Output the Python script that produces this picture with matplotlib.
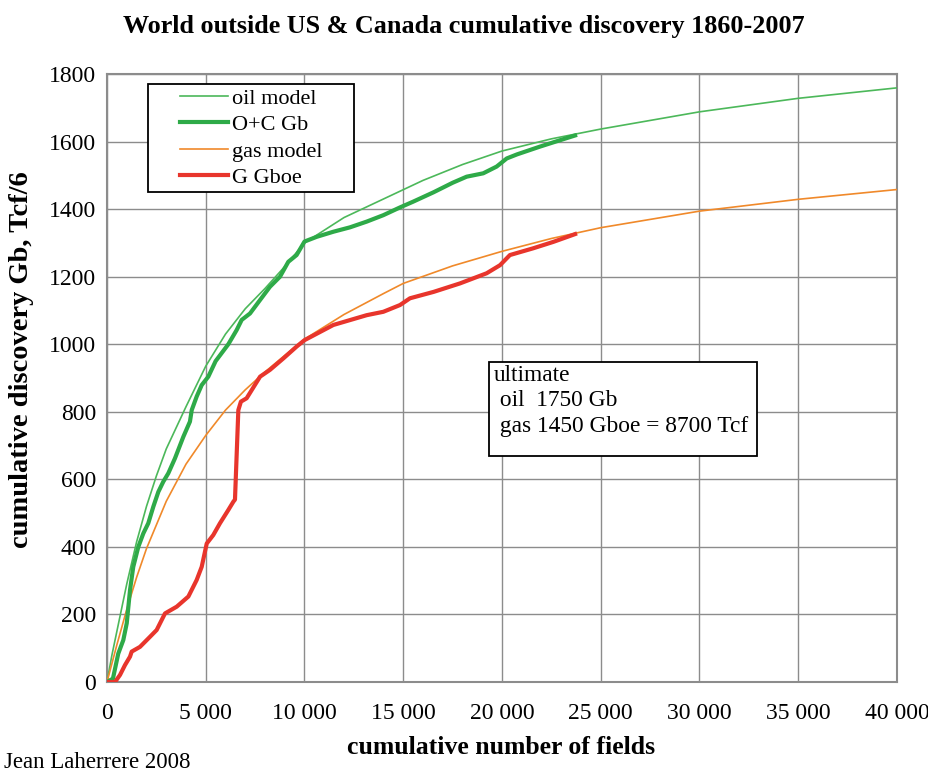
import matplotlib
matplotlib.use("Agg")
import matplotlib.pyplot as plt
from matplotlib.ticker import FixedLocator
from matplotlib.patches import Rectangle

# ---------------- data ----------------
oil_model_x = [0, 250, 500, 1000, 1500, 2000, 2500, 3000, 4000, 5000, 6000, 7000, 8000,
               9000, 10000, 12000, 14000, 16000, 18000, 20000, 22500, 25000, 30000,
               35000, 40000]
oil_model_y = [0, 80, 150, 290, 415, 520, 610, 690, 815, 935, 1030, 1105, 1165,
               1230, 1300, 1375, 1430, 1485, 1532, 1572, 1608, 1637, 1688,
               1728, 1759]

oc_x = [0, 300, 570, 825, 1000, 1165, 1330, 1585, 1840, 2090, 2345, 2600, 2850, 3105,
        3440, 3865, 4200, 4290, 4540, 4795, 5130, 5500, 6143, 6565, 6820, 7240,
        7750, 8250, 8760, 9180, 9600, 10000, 10620, 11460, 12300, 13150, 13990,
        14835, 15500, 16540, 17500, 18210, 19050, 19730, 20240, 20760, 21920,
        22940, 23700]
oc_y = [0, 10, 84, 124, 174, 272, 341, 400, 440, 470, 519, 563, 593, 618,
        662, 726, 771, 805, 845, 879, 904, 950, 1000, 1042, 1072, 1091,
        1131, 1170, 1200, 1244, 1264, 1304, 1318, 1333, 1346, 1363, 1382,
        1405, 1422, 1450, 1478, 1496, 1506, 1526, 1550, 1562, 1585,
        1604, 1618]

gas_model_x = [0, 500, 1000, 1500, 2000, 3000, 4000, 5000, 6000, 7000, 8000, 9000,
               10000, 12000, 14000, 15000, 17500, 20000, 22500, 25000, 30000,
               35000, 40000]
gas_model_y = [0, 110, 215, 310, 395, 535, 645, 730, 805, 865, 918, 967,
               1015, 1088, 1150, 1180, 1232, 1275, 1313, 1345, 1394,
               1429, 1458]

g_x = [0, 405, 660, 910, 1165, 1250, 1670, 2180, 2515, 2937, 3530, 4120, 4540,
       4795, 5050, 5380, 5720, 6140, 6400, 6480, 6650, 6780, 7070, 7750, 8250,
       8930, 9600, 10000, 11460, 13150, 13990, 14835, 15340, 16540, 17870,
       19220, 19900, 20400, 21580, 22600, 23700]
g_y = [0, 0, 21, 50, 75, 90, 104, 134, 154, 203, 223, 253, 302,
       341, 410, 435, 470, 509, 534, 540, 805, 830, 840, 904, 924,
       958, 993, 1012, 1057, 1086, 1096, 1116, 1136, 1155, 1180,
       1210, 1234, 1264, 1284, 1303, 1326]

series_labels = ["oil model", "O+C Gb", "gas model", "G Gboe"]
xtick_values = [0, 5000, 10000, 15000, 20000, 25000, 30000, 35000, 40000]
xtick_labels = ["0", "5 000", "10 000", "15 000", "20 000", "25 000", "30 000",
                "35 000", "40 000"]
ytick_values = [0, 200, 400, 600, 800, 1000, 1200, 1400, 1600, 1800]
ytick_labels = ["0", "200", "400", "600", "800", "1000", "1200", "1400", "1600", "1800"]

title = "World outside US & Canada cumulative discovery 1860-2007"
xlabel = "cumulative number of fields"
ylabel = "cumulative discovery Gb, Tcf/6"
note = "ultimate\n oil  1750 Gb\n gas 1450 Gboe = 8700 Tcf"
credit = "Jean Laherrere 2008"

# ---------------- drawing ----------------
plt.rcParams['font.family'] = ['Liberation Serif', 'DejaVu Serif']

W, H = 929, 773
fig = plt.figure(figsize=(W/100, H/100), dpi=100)
ax = fig.add_axes([107/W, 1-682/H, 790/W, 608/H])

c_oil_model = "#4cb85a"
c_oc = "#2eaa48"
c_gas_model = "#f0892a"
c_g = "#e8352c"

ax.plot(oil_model_x, oil_model_y, color=c_oil_model, lw=1.2, label=series_labels[0], zorder=3)
ax.plot(oc_x, oc_y, color=c_oc, lw=3.0, label=series_labels[1], zorder=4)
ax.plot(gas_model_x, gas_model_y, color=c_gas_model, lw=1.2, label=series_labels[2], zorder=3)
ax.plot(g_x, g_y, color=c_g, lw=3.0, label=series_labels[3], zorder=4)

ax.set_xlim(0, 40000)
ax.set_ylim(0, 1800)
ax.xaxis.set_major_locator(FixedLocator(xtick_values))
ax.yaxis.set_major_locator(FixedLocator(ytick_values))
ax.set_xticklabels(xtick_labels)
ax.set_yticklabels(ytick_labels)
ax.tick_params(axis='both', labelsize=17, length=0)
ax.tick_params(axis='x', pad=15)
ax.tick_params(axis='y', pad=8)
ax.grid(True, color="#8c8c8c", lw=1.0)
ax.set_axisbelow(True)
for s in ax.spines.values():
    s.set_color("#8c8c8c")
    s.set_linewidth(1.5)

fig.text(464/W, 1-27/H, title, ha='center', va='center', fontsize=18.8, fontweight='bold')
fig.text(501/W, 1-748/H, xlabel, ha='center', va='center', fontsize=18.5, fontweight='bold')
fig.text(22/W, 1-360/H, ylabel, ha='center', va='center', fontsize=20.5,
         fontweight='bold', rotation=90)
fig.text(4/W, 1-763/H, credit, ha='left', va='center', fontsize=16.5)

# legend: frame drawn separately so that padding matches
ax.add_patch(Rectangle((148/W, 1-192/H), (354-148)/W, (192-84)/H,
                       transform=fig.transFigure, facecolor='white',
                       edgecolor='black', lw=1.3, zorder=5, clip_on=False))
leg = ax.legend(loc='upper left', bbox_to_anchor=(180/W, 1-88/H),
                bbox_transform=fig.transFigure,
                prop={'size': 16}, frameon=False, handlelength=2.15,
                handletextpad=0.2, labelspacing=0.27, borderpad=0,
                borderaxespad=0)
leg.set_zorder(6)

# note box
ax.add_patch(Rectangle((489/W, 1-456/H), (757-489)/W, (456-362)/H,
                       transform=fig.transFigure, facecolor='white',
                       edgecolor='black', lw=1.3, zorder=5, clip_on=False))
ax.text(494/W, 1-365/H, note, transform=fig.transFigure, ha='left', va='top',
        fontsize=16.8, linespacing=1.27, zorder=6)

fig.savefig("out.png", dpi=100)
